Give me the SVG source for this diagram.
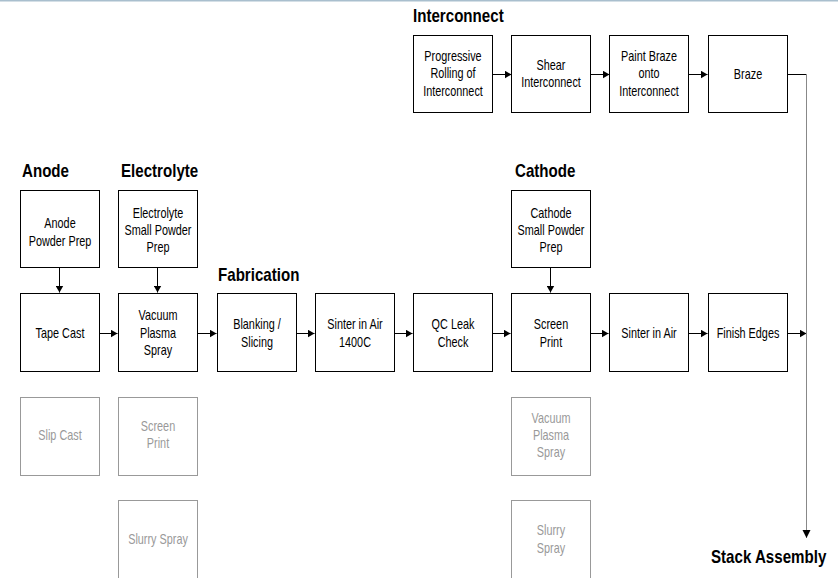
<svg xmlns="http://www.w3.org/2000/svg" width="838" height="578" viewBox="0 0 838 578">
<style>
.t{font-family:"Liberation Sans",Arial,sans-serif;font-size:14px;text-anchor:middle;fill:#000}
.g .t{fill:#999}
.h{font-family:"Liberation Sans",Arial,sans-serif;font-size:18px;font-weight:bold;fill:#000}
.b{fill:#fff;stroke:#000;stroke-width:1}
.g .b{stroke:#999}
.c{fill:none;stroke:#000;stroke-width:1}
</style>
<defs>
<marker id="a" markerWidth="7" markerHeight="8" refX="7" refY="4" orient="auto" markerUnits="userSpaceOnUse">
<path d="M0,0 L7,4 L0,8 Z" fill="#000"/>
</marker>
</defs>
<rect x="0" y="0" width="838" height="1.5" fill="#a9bfce"/>
<g id="headings">
<text class="h" transform="translate(22,177) scale(.84,1)">Anode</text>
<text class="h" transform="translate(121,177) scale(.84,1)">Electrolyte</text>
<text class="h" transform="translate(218,281) scale(.84,1)">Fabrication</text>
<text class="h" transform="translate(413,22) scale(.84,1)">Interconnect</text>
<text class="h" transform="translate(515,177) scale(.84,1)">Cathode</text>
<text class="h" transform="translate(711,563) scale(.84,1)">Stack Assembly</text>
</g>
<g id="connectors">
<path class="c" d="M59.5,267 V292.5" marker-end="url(#a)"/>
<path class="c" d="M157.5,267 V292.5" marker-end="url(#a)"/>
<path class="c" d="M550.5,267 V292.5" marker-end="url(#a)"/>
<path class="c" d="M99,333.5 H117.5" marker-end="url(#a)"/>
<path class="c" d="M197,333.5 H216.5" marker-end="url(#a)"/>
<path class="c" d="M296,333.5 H314.5" marker-end="url(#a)"/>
<path class="c" d="M394,333.5 H412.5" marker-end="url(#a)"/>
<path class="c" d="M493,333.5 H510.5" marker-end="url(#a)"/>
<path class="c" d="M586,333.5 H608.5" marker-end="url(#a)"/>
<path class="c" d="M689,333.5 H707.5" marker-end="url(#a)"/>
<path class="c" d="M787,333.5 H806.5" marker-end="url(#a)"/>
<path class="c" d="M492,74.5 H511.5" marker-end="url(#a)"/>
<path class="c" d="M590,74.5 H609.5" marker-end="url(#a)"/>
<path class="c" d="M689,74.5 H707.5" marker-end="url(#a)"/>
<path class="c" d="M787,74.5 H806.5"/>
<path class="c" d="M806.5,74 V538" style="stroke:#888"/>
<path d="M802.5,530 L810.5,530 L806.5,538 Z" fill="#000"/>
</g>
<g id="anode-prep"><rect class="b" x="20.5" y="190.5" width="79" height="77"/><text class="t" transform="translate(60,228) scale(.775,1)">Anode</text><text class="t" transform="translate(60,246) scale(.775,1)">Powder Prep</text></g>
<g id="electrolyte-prep"><rect class="b" x="118.5" y="190.5" width="79" height="77"/><text class="t" transform="translate(158,218) scale(.775,1)">Electrolyte</text><text class="t" transform="translate(158,235) scale(.775,1)">Small Powder</text><text class="t" transform="translate(158,252) scale(.775,1)">Prep</text></g>
<g id="cathode-prep"><rect class="b" x="511.5" y="190.5" width="79" height="77"/><text class="t" transform="translate(551,218) scale(.775,1)">Cathode</text><text class="t" transform="translate(551,235) scale(.775,1)">Small Powder</text><text class="t" transform="translate(551,252) scale(.775,1)">Prep</text></g>
<g id="tape-cast"><rect class="b" x="20.5" y="293.5" width="79" height="78"/><text class="t" transform="translate(60,338) scale(.775,1)">Tape Cast</text></g>
<g id="vps"><rect class="b" x="118.5" y="293.5" width="79" height="78"/><text class="t" transform="translate(158,320) scale(.775,1)">Vacuum</text><text class="t" transform="translate(158,338) scale(.775,1)">Plasma</text><text class="t" transform="translate(158,355) scale(.775,1)">Spray</text></g>
<g id="blanking"><rect class="b" x="217.5" y="293.5" width="79" height="78"/><text class="t" transform="translate(257,329) scale(.775,1)">Blanking /</text><text class="t" transform="translate(257,347) scale(.775,1)">Slicing</text></g>
<g id="sinter-1400"><rect class="b" x="315.5" y="293.5" width="79" height="78"/><text class="t" transform="translate(355,329) scale(.775,1)">Sinter in Air</text><text class="t" transform="translate(355,347) scale(.775,1)">1400C</text></g>
<g id="qc"><rect class="b" x="413.5" y="293.5" width="79" height="78"/><text class="t" transform="translate(453,329) scale(.775,1)">QC Leak</text><text class="t" transform="translate(453,347) scale(.775,1)">Check</text></g>
<g id="screen-print"><rect class="b" x="511.5" y="293.5" width="79" height="78"/><text class="t" transform="translate(551,329) scale(.775,1)">Screen</text><text class="t" transform="translate(551,347) scale(.775,1)">Print</text></g>
<g id="sinter-air"><rect class="b" x="609.5" y="293.5" width="79" height="78"/><text class="t" transform="translate(649,338) scale(.775,1)">Sinter in Air</text></g>
<g id="finish-edges"><rect class="b" x="708.5" y="293.5" width="79" height="78"/><text class="t" transform="translate(748,338) scale(.775,1)">Finish Edges</text></g>
<g id="rolling"><rect class="b" x="413.5" y="35.5" width="79" height="77"/><text class="t" transform="translate(453,61) scale(.775,1)">Progressive</text><text class="t" transform="translate(453,78) scale(.775,1)">Rolling of</text><text class="t" transform="translate(453,96) scale(.775,1)">Interconnect</text></g>
<g id="shear"><rect class="b" x="511.5" y="35.5" width="79" height="77"/><text class="t" transform="translate(551,70) scale(.775,1)">Shear</text><text class="t" transform="translate(551,87) scale(.775,1)">Interconnect</text></g>
<g id="paint-braze"><rect class="b" x="609.5" y="35.5" width="79" height="77"/><text class="t" transform="translate(649,61) scale(.775,1)">Paint Braze</text><text class="t" transform="translate(649,78) scale(.775,1)">onto</text><text class="t" transform="translate(649,96) scale(.775,1)">Interconnect</text></g>
<g id="braze"><rect class="b" x="708.5" y="35.5" width="79" height="77"/><text class="t" transform="translate(748,79) scale(.775,1)">Braze</text></g>
<g id="slip-cast" class="g"><rect class="b" x="20.5" y="397.5" width="79" height="78"/><text class="t" transform="translate(60,440) scale(.775,1)">Slip Cast</text></g>
<g id="e-screen-print" class="g"><rect class="b" x="118.5" y="397.5" width="79" height="78"/><text class="t" transform="translate(158,431) scale(.775,1)">Screen</text><text class="t" transform="translate(158,448) scale(.775,1)">Print</text></g>
<g id="e-slurry" class="g"><rect class="b" x="118.5" y="500.5" width="79" height="79"/><text class="t" transform="translate(158,544) scale(.775,1)">Slurry Spray</text></g>
<g id="c-vps" class="g"><rect class="b" x="511.5" y="397.5" width="79" height="78"/><text class="t" transform="translate(551,423) scale(.775,1)">Vacuum</text><text class="t" transform="translate(551,440) scale(.775,1)">Plasma</text><text class="t" transform="translate(551,457) scale(.775,1)">Spray</text></g>
<g id="c-slurry" class="g"><rect class="b" x="511.5" y="500.5" width="79" height="79"/><text class="t" transform="translate(551,535) scale(.775,1)">Slurry</text><text class="t" transform="translate(551,553) scale(.775,1)">Spray</text></g>
</svg>
